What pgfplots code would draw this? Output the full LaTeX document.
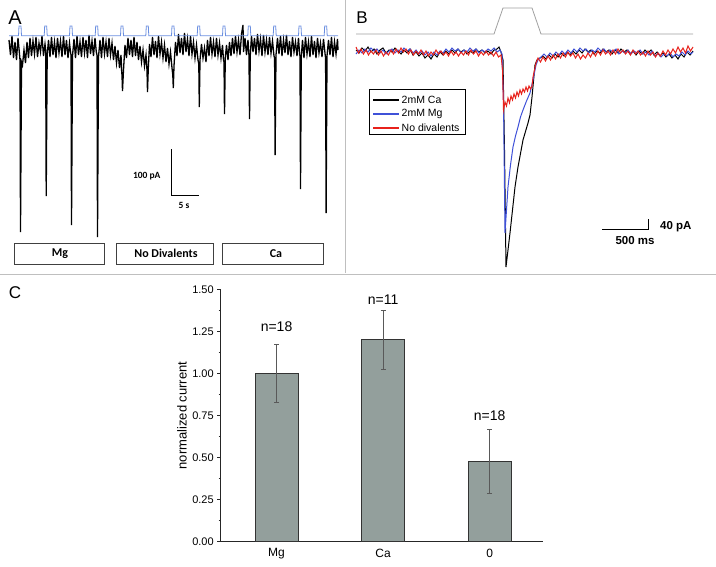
\documentclass[border=0pt]{standalone}
\usepackage{pgfplots}
\pgfplotsset{compat=1.18}
\usepackage{fontspec}
\setmainfont{Liberation Sans}
\newfontfamily\calfont{Carlito}
\definecolor{stimblue}{HTML}{6B8FE0}
\definecolor{stimgray}{HTML}{A0A0A0}
\definecolor{trblue}{HTML}{3F51D8}
\definecolor{trred}{HTML}{E8211B}
\definecolor{barfill}{HTML}{939F9C}
\definecolor{sepgray}{HTML}{BFBFBF}
\begin{document}
\begin{tikzpicture}
\path[use as bounding box] (0,0) rectangle (716pt,566pt);
% ---------------- overlay axis in pixel units (panels A and B) ----------------
\begin{axis}[scale only axis, width=716pt, height=566pt, at={(0,0)}, anchor=south west,
  xmin=0, xmax=716, ymin=0, ymax=566, y dir=reverse, hide axis, clip=false]
% separators
\addplot[sepgray, line width=1pt, mark=none] coordinates {(345.5,0)(345.5,273)};
\addplot[sepgray, line width=1pt, mark=none] coordinates {(0,274)(716,274)};
% ---- Panel A trace ----
\addplot[black, line width=1.3pt, mark=none] coordinates {
(9,40)(10.5,55)(12,36)(13.5,58)(15,42)(16.5,60)(18,38)(19.5,54)
(20,60)(20.5,232)(21.5,62)
(22.5,65)(24,50)(25.5,63)(27,42)(28.5,58)(30,38)(31.5,56)(33,41)(34.5,54)(36,37)(37.5,57)(39,43)(40.5,52)(42,36)(43.5,56)(45,44)
(45.7,50)(46.2,196)(47.2,55)
(48.5,40)(50,57)(51.5,37)(53,55)(54.5,42)(56,58)(57.5,38)(59,53)(60.5,41)(62,57)(63.5,36)(65,55)(66.5,40)(68,58)(69.5,43)(70.5,52)
(71,55)(71.5,225)(72.5,56)
(74,39)(75.5,58)(77,36)(78.5,55)(80,42)(81.5,57)(83,37)(84.5,53)(86,40)(87.5,58)(89,35)(90.5,54)(92,41)(93.5,56)(95,38)(96.3,52)
(97,55)(97.5,237)(98.5,57)
(100,40)(101.5,58)(103,37)(104.5,54)(106,42)(107.5,57)(109,38)(110.5,55)(112,43)(113.5,60)(115,46)(116.5,63)(118,50)(119.5,68)(121,55)(121.7,72)
(122,75)(122.5,91)(123.5,70)
(125,45)(126.5,58)(128,38)(129.5,55)(131,40)(132.5,57)(134,37)(135.5,56)(137,42)(138.5,60)(140,46)(141.5,62)(143,50)(144.5,66)(146,55)(147,70)
(147.5,92)(148.3,68)
(149.5,44)(151,57)(152.5,37)(154,55)(155.5,41)(157,58)(158.5,36)(160,54)(161.5,42)(163,58)(164.5,45)(166,62)(167.5,48)(169,64)(170.5,52)(172,68)
(172.8,75)(173.3,88)(174,66)
(175.5,42)(177,56)(178.5,34)(180,53)(181.5,38)(183,55)(184.5,33)(186,52)(187.5,39)(189,56)(190.5,36)(192,54)(193.5,42)(195,58)(196.5,45)(198,60)
(198.8,64)(199.3,107)(200,60)
(201.5,44)(203,58)(204.5,48)(206,62)(207.5,40)(209,56)(210.5,37)(212,54)(213.5,42)(215,57)(216.5,38)(218,55)(219.5,43)(221,58)(222.5,45)(223.5,60)
(224,62)(224.5,114)(225.3,58)
(226.5,45)(228,60)(229.5,42)(231,56)(232.5,38)(234,54)(235.5,36)(237,52)(238.5,40)(240,55)(241.5,34)(243,25)(243.5,52)(245,38)(246.5,55)(248,40)
(249,56)(249.5,119)(250.3,55)
(251.5,36)(253,52)(254.5,38)(256,55)(257.5,34)(259,51)(260.5,39)(262,56)(263.5,35)(265,52)(266.5,40)(268,55)(269.5,37)(271,53)(272.5,41)(274,56)
(274.6,58)(275.1,155)(276,55)
(277.5,38)(279,54)(280.5,36)(282,56)(283.5,40)(285,53)(286.5,35)(288,55)(289.5,41)(291,57)(292.5,37)(294,52)(295.5,42)(297,56)(298.5,38)(299.6,54)
(300,56)(300.5,189)(301.3,57)
(302.5,40)(304,58)(305.5,37)(307,54)(308.5,42)(310,57)(311.5,36)(313,55)(314.5,41)(316,58)(317.5,38)(319,53)(320.5,43)(322,57)(323.5,39)(325.2,55)
(325.6,58)(326.1,213)(327,56)
(328.5,40)(330,55)(331.5,37)(333,57)(334.5,42)(336,54)(337.5,39)(338,50)
};
% ---- Panel A stimulus ----
\addplot[stimblue, line width=0.8pt, mark=none] coordinates {
(9,35.7)
(18.5,35.7)(19,26)(21,26)(21.5,35.7)
(44.2,35.7)(44.7,26)(46.7,26)(47.2,35.7)
(69.5,35.7)(70,26)(72,26)(72.5,35.7)
(95.2,35.7)(95.7,26)(97.7,26)(98.2,35.7)
(120.5,35.7)(121,26)(123,26)(123.5,35.7)
(145.8,35.7)(146.3,26)(148.3,26)(148.8,35.7)
(171.5,35.7)(172,26)(174,26)(174.5,35.7)
(197.2,35.7)(197.7,26)(199.7,26)(200.2,35.7)
(222.5,35.7)(223,26)(225,26)(225.5,35.7)
(247.8,35.7)(248.3,26)(250.3,26)(250.8,35.7)
(273.2,35.7)(273.7,26)(275.7,26)(276.2,35.7)
(298.5,35.7)(299,26)(301,26)(301.5,35.7)
(324.2,35.7)(324.7,26)(326.7,26)(327.2,35.7)
(338,35.7)};
% ---- Panel A scale bar ----
\addplot[black, line width=0.8pt, mark=none] coordinates {(171,149)(171,195)(199,195)};
\node[font=\calfont\bfseries\fontsize{9.5}{9.5}\selectfont, anchor=east] at (axis cs:164,176) {100 pA};
\node[font=\calfont\bfseries\fontsize{9.5}{9.5}\selectfont] at (axis cs:184,205) {5 s};
% ---- Panel A boxes ----
\addplot[black!75, line width=0.8pt, mark=none] coordinates {(14,243)(104,243)(104,264)(14,264)(14,243)};
\addplot[black!75, line width=0.8pt, mark=none] coordinates {(116,243)(213,243)(213,264)(116,264)(116,243)};
\addplot[black!75, line width=0.8pt, mark=none] coordinates {(222,243)(323,243)(323,264)(222,264)(222,243)};
\node[font=\calfont\bfseries\fontsize{12}{12}\selectfont] at (axis cs:60,253.5) {Mg};
\node[font=\calfont\bfseries\fontsize{12}{12}\selectfont] at (axis cs:166,253.5) {No Divalents};
\node[font=\calfont\bfseries\fontsize{12}{12}\selectfont] at (axis cs:276,253.5) {Ca};
\node[font=\fontsize{20}{20}\selectfont] at (axis cs:15,18) {A};
% ---- Panel B ----
\node[font=\fontsize{17}{17}\selectfont] at (axis cs:362,17.5) {B};
\addplot[stimgray, line width=0.8pt, mark=none] coordinates {(356,34)(494,34)(503,8)(532,8)(541,34)(693,34)};
\addplot[black, line width=1pt, mark=none] coordinates {
(356,50)(359,53)(362,48)(365,51)(368,47)(371,52)(374,49)(377,54)(380,50)(383,48)(386,53)(389,50)(392,52)(395,48)(398,51)(401,54)(404,50)(407,53)(410,49)(413,55)(416,52)(419,56)(422,53)(425,58)(428,55)(431,59)(434,54)(437,57)(440,52)(443,55)(446,51)(449,54)(452,50)(455,53)(458,49)(461,52)(464,50)(467,54)(470,51)(473,53)(476,49)(479,52)(482,50)(485,53)(488,51)(491,54)(494,50)(497,49)(499,47)(501,52)(503,60)
(504.5,150)(506,267)(510,233)(515,187)(518,167)(523,140)(528,123)(530,115)(532,97)(535,65)
(537,60)(540,58)(543,56)(546,59)(549,55)(552,58)(555,54)(558,57)(561,53)(564,56)(567,52)(570,55)(573,51)(576,54)(579,50)(582,53)(585,49)(588,52)(591,50)(594,54)(597,51)(600,53)(603,49)(606,52)(609,50)(612,54)(615,50)(618,53)(621,49)(624,52)(627,50)(630,54)(633,51)(636,55)(639,51)(642,54)(645,50)(648,53)(651,50)(654,55)(657,52)(660,56)(663,53)(666,57)(669,54)(672,58)(675,55)(678,59)(681,54)(684,57)(687,52)(690,55)(693,51)};
\addplot[trblue, line width=1pt, mark=none] coordinates {
(356,54)(359,50)(362,53)(365,49)(368,52)(371,48)(374,51)(377,49)(380,53)(383,50)(386,54)(389,51)(392,49)(395,53)(398,50)(401,52)(404,48)(407,51)(410,49)(413,53)(416,50)(419,54)(422,51)(425,55)(428,52)(431,56)(434,52)(437,55)(440,51)(443,53)(446,49)(449,52)(452,48)(455,51)(458,49)(461,53)(464,50)(467,52)(470,48)(473,51)(476,49)(479,53)(482,50)(485,52)(488,49)(491,51)(494,48)(497,52)(500,50)(502,54)
(503.5,100)(505,233)(508,187)(510.5,165)(513,147)(515.5,136)(518,127)(520.5,117)(523,110)(526.5,101)(530,93)(533,80)(536,65)
(538,60)(541,57)(544,54)(547,57)(550,53)(553,56)(556,52)(559,55)(562,51)(565,54)(568,50)(571,53)(574,49)(577,52)(580,48)(583,51)(586,49)(589,53)(592,50)(595,52)(598,48)(601,51)(604,49)(607,53)(610,50)(613,52)(616,49)(619,54)(622,51)(625,53)(628,50)(631,54)(634,51)(637,53)(640,50)(643,54)(646,52)(649,55)(652,51)(655,56)(658,53)(661,57)(664,54)(667,56)(670,53)(673,57)(676,54)(679,56)(682,52)(685,55)(688,51)(691,54)(693,52)};
\addplot[trred, line width=1pt, mark=none] coordinates {
(356,47)(358.5,53)(361,49)(363.5,54)(366,50)(368.5,55)(371,51)(373.5,54)(376,50)(378.5,55)(381,51)(383.5,56)(386,52)(388.5,55)(391,50)(393.5,54)(396,49)(398.5,53)(401,48)(403.5,52)(406,49)(408.5,54)(411,50)(413.5,55)(416,51)(418.5,54)(421,50)(423.5,55)(426,51)(428.5,56)(431,52)(433.5,55)(436,50)(438.5,54)(441,51)(443.5,55)(446,52)(448.5,56)(451,51)(453.5,55)(456,52)(458.5,56)(461,52)(463.5,55)(466,51)(468.5,55)(471,50)(473.5,54)(476,51)(478.5,56)(481,52)(483.5,55)(486,51)(488.5,55)(491,52)(493.5,56)(496,52)(498.5,57)(501,55)
(502.5,70)(503.5,110)(505,102)(506.5,106)(508,98)(509.5,103)(511,96)(512.5,100)(514,94)(515.5,98)(517,92)(518.5,96)(520,90)(521.5,94)(523,89)(524.5,92)(526,87)(527.5,91)(529,86)(530.5,89)(532,86)(533,77)(536,63)
(538,58)(540.5,62)(543,57)(545.5,61)(548,56)(550.5,60)(553,55)(555.5,59)(558,54)(560.5,58)(563,53)(565.5,57)(568,52)(570.5,56)(573,53)(575.5,58)(578,54)(580.5,59)(583,55)(585.5,58)(588,53)(590.5,57)(593,52)(595.5,56)(598,51)(600.5,55)(603,50)(605.5,54)(608,51)(610.5,55)(613,50)(615.5,54)(618,49)(620.5,53)(623,50)(625.5,54)(628,51)(630.5,55)(633,50)(635.5,54)(638,51)(640.5,55)(643,52)(645.5,56)(648,51)(650.5,55)(653,52)(655.5,57)(658,53)(660.5,56)(663,51)(665.5,55)(668,50)(670.5,54)(673,49)(675.5,53)(678,47)(680.5,52)(683,48)(685.5,53)(688,46)(690.5,51)(693,47)};
% legend
\addplot[black, line width=0.8pt, mark=none] coordinates {(369,89)(465,89)(465,134)(369,134)(369,89)};
\addplot[black, line width=1.2pt, mark=none] coordinates {(373,100)(399,100)};
\addplot[trblue, line width=1.2pt, mark=none] coordinates {(373,114)(399,114)};
\addplot[trred, line width=1.2pt, mark=none] coordinates {(373,128)(399,128)};
\node[font=\fontsize{10.5}{10.5}\selectfont, anchor=west, inner sep=0pt] at (axis cs:401.5,100) {2mM Ca};
\node[font=\fontsize{10.5}{10.5}\selectfont, anchor=west, inner sep=0pt] at (axis cs:401.5,114) {2mM Mg};
\node[font=\fontsize{10.5}{10.5}\selectfont, anchor=west, inner sep=0pt] at (axis cs:401.5,128) {No divalents};
% scale bar B
\addplot[black, line width=0.8pt, mark=none] coordinates {(602,229)(648,229)(648,219)};
\node[font=\bfseries\fontsize{11.5}{11.5}\selectfont, anchor=west, inner sep=0pt] at (axis cs:660,227) {40 pA};
\node[font=\bfseries\fontsize{11.5}{11.5}\selectfont] at (axis cs:635,241) {500 ms};
% Panel C label
\node[font=\fontsize{17}{17}\selectfont] at (axis cs:15,293) {C};
\end{axis}
% ---------------- Panel C bar chart ----------------
\begin{axis}[at={(220.7pt,24.3pt)}, anchor=south west, scale only axis,
  width=322.3pt, height=252.4pt,
  xmin=0.476, xmax=3.5, ymin=0, ymax=1.5,
  axis lines*=left, axis line style={line width=0.8pt, black!85},
  ybar, bar width=43pt,
  ytick={0,0.25,0.5,0.75,1,1.25,1.5},
  minor y tick num=1,
  xtick={1,2,3}, xticklabels={Mg,Ca,0},
  x tick style={draw=none},
  y tick style={black!85, line width=0.6pt},
  tick align=outside,
  major tick length=3.5pt, minor tick length=2pt,
  yticklabel style={font=\fontsize{11}{11}\selectfont,
    /pgf/number format/.cd, fixed, fixed zerofill, precision=2, assume math mode=true},
  xticklabel style={font=\fontsize{12}{12}\selectfont},
  ylabel={normalized current},
  ylabel style={font=\fontsize{13}{13}\selectfont, at={(axis description cs:-0.12,0.5)}, anchor=center},
  clip=false]
\addplot[fill=barfill, draw=black!80, line width=1pt,
  error bars/.cd, y dir=both, y explicit,
  error bar style={black!65, line width=0.6pt},
  error mark options={rotate=90, mark size=2.5pt, black!65, line width=0.6pt}]
  coordinates {(1,1.0) +- (0,0.172) (2,1.20) +- (0,0.173) (3,0.478) +- (0,0.19)};
\node[font=\fontsize{14}{14}\selectfont] at (axis cs:1,1.28) {n=18};
\node[font=\fontsize{14}{14}\selectfont] at (axis cs:2,1.44) {n=11};
\node[font=\fontsize{14}{14}\selectfont] at (axis cs:3,0.747) {n=18};
\end{axis}
\end{tikzpicture}
\end{document}
